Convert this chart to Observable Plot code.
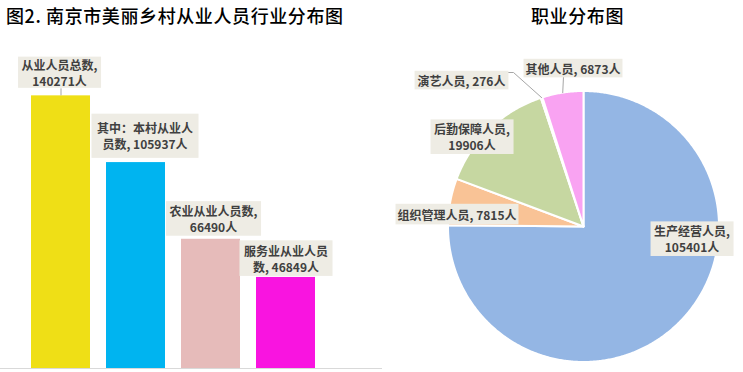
<!DOCTYPE html>
<html><head><meta charset="utf-8">
<script src="https://cdn.jsdelivr.net/npm/d3@7"></script>
<script src="https://cdn.jsdelivr.net/npm/@observablehq/plot@0.6"></script>
<style>
body{margin:0;background:#fff;font-family:"Noto Sans CJK SC",sans-serif;}
#wrap{position:relative;width:743px;height:372px;overflow:hidden;background:#fff;}
.title{position:absolute;top:2px;font-size:18px;font-weight:500;color:#000;white-space:nowrap;line-height:26px;letter-spacing:0.6px;font-family:"Noto Sans CJK SC",sans-serif;}
#left,#right{position:absolute;top:0;}
#left{left:0}
#right{left:383px}
svg{display:block}
</style></head><body>
<div id="wrap">
<div id="left"></div><div id="right"></div>
<div class="title" style="left:6px">图2. 南京市美丽乡村从业人员行业分布图</div>
<div class="title" style="left:531px">职业分布图</div>
</div>
<script>
// ---------- data ----------
const barCategories = ["从业人员总数", "其中：本村从业人员数", "农业从业人员数", "服务业从业人员数"];
const barValues = [140271, 105937, 66490, 46849];
const barLabels = ["从业人员总数,\n140271人", "其中：本村从业人\n员数, 105937人", "农业从业人员数,\n66490人", "服务业从业人员\n数, 46849人"];
const barColors = ["#EFDF16", "#00B4F0", "#E6BBBA", "#F914E0"];

const pieCategories = ["生产经营人员", "组织管理人员", "后勤保障人员", "演艺人员", "其他人员"];
const pieValues = [105401, 7815, 19906, 276, 6873];
const pieLabels = ["生产经营人员,\n105401人", "组织管理人员, 7815人", "后勤保障人员,\n19906人", "演艺人员, 276人", "其他人员, 6873人"];
const pieColors = ["#94B6E4", "#F9C396", "#C6D7A1", "#CCC1DA", "#F9A3F2"];

// ---------- layout ----------
const boxFill = "#EEECE4", textFill = "#404040", leaderColor = "#A6A6A6";
const barLabelLayout = [
  {dx: -1.5, dy: -23.3, px: 3.5, py: -1},
  {dx: 9, dy: -26.5, px: 5.5, py: 5.5},
  {dx: 2.5, dy: -20.5, px: 3.5, py: 0.7},
  {dx: 0, dy: -19, px: 4.5, py: 1.2}
];
const pieRadius = 135.5;
const pieLabelLayout = [
  {x: 108.5, y: -12.5, px: 3.5, py: 0.7},
  {x: -126.5, y: 12.1, px: 2, py: 1.8},
  {x: -111.5, y: 89.5, px: 3.5, py: 0.7},
  {x: -122, y: 146.1, px: 3, py: 0.8},
  {x: -10.5, y: 158.1, px: 2, py: 0.8}
];

function addBoxes(svg, layouts) {
  const texts = svg.querySelectorAll('g[aria-label="text"] text');
  texts.forEach((t, i) => {
    const L = layouts[i];
    const bb = t.getBBox();
    const r = document.createElementNS("http://www.w3.org/2000/svg", "rect");
    r.setAttribute("x", bb.x - L.px);
    r.setAttribute("y", bb.y - L.py);
    r.setAttribute("width", bb.width + 2 * L.px);
    r.setAttribute("height", bb.height + 2 * L.py);
    r.setAttribute("fill", boxFill);
    if (t.getAttribute("transform")) r.setAttribute("transform", t.getAttribute("transform"));
    t.parentNode.insertBefore(r, t);
  });
}

// ---------- left: bar chart ----------
const bars = barCategories.map((c, i) => ({cat: c, value: barValues[i], label: barLabels[i]}));
const yTop = 57, yBase = 368, yMax = 160000;
const pxPerUnit = (yBase - yTop) / yMax;

const left = Plot.plot({
  width: 383, height: 372,
  marginLeft: 0, marginRight: 1, marginTop: 0, marginBottom: 0,
  style: {fontFamily: "Noto Sans CJK SC", fontSize: "12px", background: "transparent"},
  x: {type: "band", domain: barCategories, range: [13.8, 332.6], padding: 0.2137, axis: null},
  y: {domain: [0, yMax], range: [yBase, yTop], axis: null},
  color: {domain: barCategories, range: barColors},
  marks: [
    Plot.barY(bars, {x: "cat", y: "value", fill: "cat"}),
    Plot.ruleY([0], {stroke: "#D9D9D9", strokeWidth: 1}),
    Plot.ruleX([bars[0]], {x: "cat", y1: "value", y2: d => d.value + 7 / pxPerUnit, stroke: leaderColor, strokeWidth: 1}),
    ...bars.map((b, i) => Plot.text([b], {
      x: "cat", y: "value", text: "label",
      dx: barLabelLayout[i].dx, dy: barLabelLayout[i].dy,
      lineAnchor: "middle", lineHeight: 1.35,
      fontWeight: "bold", fill: textFill
    }))
  ]
});
document.getElementById("left").appendChild(left);
addBoxes(left, barLabelLayout);

// ---------- right: pie chart ----------
const arcs = d3.pie().sort(null).value(d => d)(pieValues);
const slicePts = [];
arcs.forEach((a, i) => {
  const name = pieCategories[i];
  slicePts.push({name, x: 0, y: 0});
  const n = Math.max(2, Math.ceil((a.endAngle - a.startAngle) / (Math.PI / 360)));
  for (let j = 0; j <= n; j++) {
    const t = a.startAngle + (a.endAngle - a.startAngle) * j / n;
    slicePts.push({name, x: pieRadius * Math.sin(t), y: pieRadius * Math.cos(t)});
  }
});
const mid = i => {
  const t = (arcs[i].startAngle + arcs[i].endAngle) / 2;
  return {x: pieRadius * Math.sin(t), y: pieRadius * Math.cos(t)};
};
const leaders = [
  {id: "演艺", x: -76, y: 154}, {id: "演艺", x: -70, y: 154}, {id: "演艺", ...mid(3)},
  {id: "其他", x: -20, y: 150}, {id: "其他", ...mid(4)}
];
const pieLabelData = pieLabels.map((l, i) => ({label: l, x: pieLabelLayout[i].x, y: pieLabelLayout[i].y}));

const right = Plot.plot({
  width: 360, height: 372,
  margin: 0,
  style: {fontFamily: "Noto Sans CJK SC", fontSize: "12px", background: "transparent", overflow: "visible"},
  x: {domain: [-200, 160], range: [0, 360], axis: null},
  y: {domain: [-146, 226], range: [372, 0], axis: null},
  color: {domain: pieCategories, range: pieColors},
  marks: [
    Plot.line(slicePts, {x: "x", y: "y", z: "name", fill: "name", stroke: "white", strokeWidth: 2, curve: "linear-closed"}),
    Plot.line(leaders, {x: "x", y: "y", z: "id", stroke: leaderColor, strokeWidth: 1}),
    Plot.text(pieLabelData, {x: "x", y: "y", text: "label", lineAnchor: "middle", lineHeight: 1.35, fontWeight: "bold", fill: textFill})
  ]
});
document.getElementById("right").appendChild(right);
addBoxes(right, pieLabelLayout);
</script>
</body></html>
